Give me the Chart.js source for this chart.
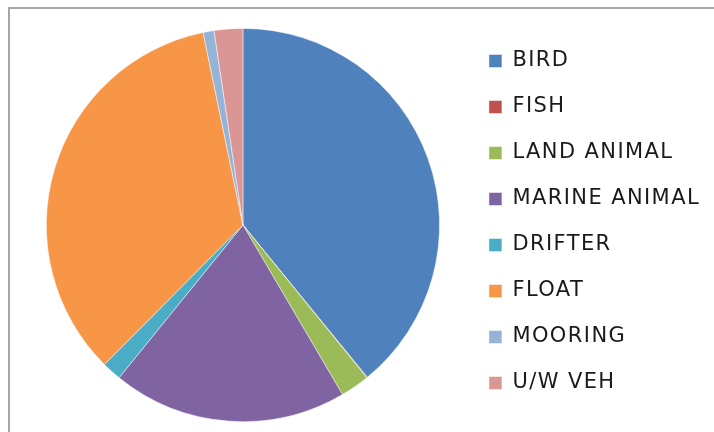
<!DOCTYPE html>
<html>
<head>
<meta charset="utf-8">
<script src="https://cdn.jsdelivr.net/npm/chart.js@4/dist/chart.umd.min.js"></script>
<style>
  html, body { margin: 0; padding: 0; background: #fff; }
  #wrap { position: relative; width: 714px; height: 432px; overflow: hidden; }
  #frame { position: absolute; left: 8px; top: 7px; width: 720px; height: 440px;
           border-top: 2px solid #a6a6a6; border-left: 2px solid #a6a6a6; box-sizing: border-box; }
  canvas { position: absolute; left: 0; top: 0; }
</style>
</head>
<body>
<div id="wrap">
  <div id="frame"></div>
  <canvas id="c" width="714" height="432"></canvas>
</div>
<script>
// Share of platform types (percent)
const categories = ['BIRD', 'FISH', 'LAND ANIMAL', 'MARINE ANIMAL', 'DRIFTER', 'FLOAT', 'MOORING', 'U/W VEH'];
const shares = [39.1, 0.05, 2.4, 19.3, 1.6, 34.3, 0.9, 2.35];
const sliceColors = ['#4F81BD', '#C0504D', '#9BBB59', '#8064A2', '#4BACC6', '#F79646', '#95B3D7', '#D99694'];

// Slightly wider letter spacing for the legend text
const spacing = {
  id: 'spacing',
  beforeLayout(chart) { chart.ctx.letterSpacing = '1.4px'; },
  afterLayout(chart) {
    // nudge the legend column up a little
    chart.legend.top -= 3;
    chart.legend.bottom -= 3;
  },
  beforeDraw(chart) { chart.ctx.letterSpacing = '1.4px'; }
};

new Chart(document.getElementById('c'), {
  type: 'pie',
  data: {
    labels: categories,
    datasets: [{
      data: shares,
      backgroundColor: sliceColors,
      borderColor: 'rgba(255,255,255,0.6)',
      borderWidth: 0.8
    }]
  },
  options: {
    responsive: false,
    devicePixelRatio: 1,
    animation: false,
    layout: { padding: { left: 22, top: 28, bottom: 10, right: 4 } },
    plugins: {
      tooltip: { enabled: false },
      legend: {
        position: 'right',
        align: 'center',
        labels: {
          boxWidth: 13,
          boxHeight: 13,
          padding: 25,
          color: '#1a1a1a',
          font: { family: 'DejaVu Sans', size: 21 }
        }
      }
    }
  },
  plugins: [spacing]
});
</script>
</body>
</html>
